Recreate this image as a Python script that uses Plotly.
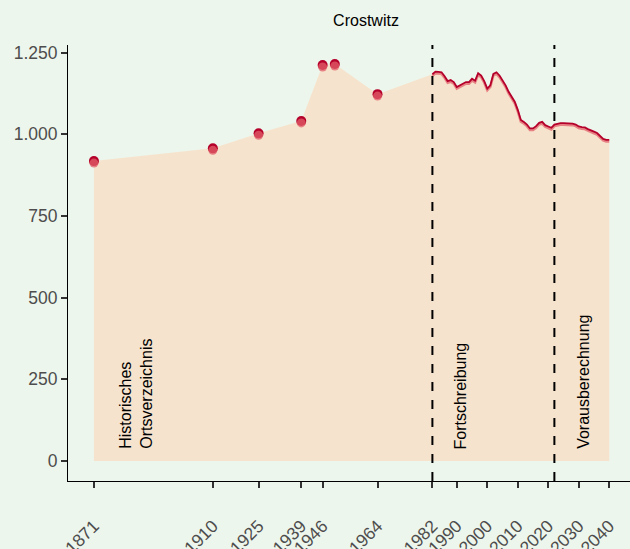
import plotly.graph_objects as go

# Historic census points (Historisches Ortsverzeichnis)
hist_years = [1871, 1910, 1925, 1939, 1946, 1950, 1964]
hist_values = [918, 957, 1003, 1041, 1212, 1215, 1123]
hist_values_b = [912, 951, 997, 1035, 1206, 1209, 1117]

# Fortschreibung (annual)
fort_years = list(range(1982, 2023))
fort_values = [1184, 1192, 1191, 1190, 1178, 1163, 1166, 1160, 1145, 1150,
               1156, 1160, 1160, 1170, 1164, 1187, 1180, 1163, 1140, 1150,
               1185, 1190, 1180, 1165, 1150, 1130, 1115, 1100, 1075, 1044,
               1038, 1030, 1018, 1018, 1025, 1035, 1038, 1028, 1024, 1020,
               1030]

# Vorausberechnung (projection)
proj_years = list(range(2022, 2041))
proj_values = [1030, 1033, 1034, 1034, 1034, 1034, 1033, 1030, 1024, 1022,
               1021, 1016, 1013, 1008, 1004, 995, 986, 983, 983]

x_ticks = [1871, 1910, 1925, 1939, 1946, 1964, 1982, 1990, 2000, 2010, 2020, 2030, 2040]
y_ticks = [0, 250, 500, 750, 1000, 1250]
y_tick_labels = ["0", "250", "500", "750", "1.000", "1.250"]
breaks = [1982, 2022]

DARK = "#b4002a"
PINK = "rgba(225,95,105,0.75)"
FILL = "#f6e3cd"
BG = "#edf6ec"

line_years = fort_years + proj_years[1:]
line_values = fort_values + proj_values[1:]
all_years = hist_years + line_years
all_values = hist_values + line_values

fig = go.Figure()
fig.add_trace(go.Scatter(x=all_years, y=all_values, mode="lines", fill="tozeroy",
                         fillcolor=FILL, line=dict(width=0), hoverinfo="skip", showlegend=False))
fig.add_trace(go.Scatter(x=line_years, y=[v - 5 for v in line_values], mode="lines",
                         line=dict(color=PINK, width=2.5), showlegend=False))
fig.add_trace(go.Scatter(x=line_years, y=line_values, mode="lines",
                         line=dict(color=DARK, width=1.8), showlegend=False))
fig.add_trace(go.Scatter(x=hist_years, y=hist_values, mode="markers",
                         marker=dict(color=DARK, size=10), showlegend=False))
fig.add_trace(go.Scatter(x=hist_years, y=hist_values_b, mode="markers",
                         marker=dict(color=PINK, size=9), showlegend=False))

for b in breaks:
    fig.add_shape(type="line", x0=b, x1=b, y0=0, y1=1, xref="x", yref="paper",
                  line=dict(color="black", width=2, dash="dash"))

ann_font = dict(family="Liberation Sans, Arial", size=16, color="black")
fig.add_annotation(x=1885, y=30, text="Historisches<br>Ortsverzeichnis", textangle=-90,
                   showarrow=False, xanchor="center", yanchor="bottom", font=ann_font, align="left")
fig.add_annotation(x=1991.3, y=30, text="Fortschreibung", textangle=-90,
                   showarrow=False, xanchor="center", yanchor="bottom", font=ann_font)
fig.add_annotation(x=2031.6, y=30, text="Vorausberechnung", textangle=-90,
                   showarrow=False, xanchor="center", yanchor="bottom", font=ann_font)

fig.update_layout(
    width=630, height=549,
    paper_bgcolor=BG, plot_bgcolor=BG,
    margin=dict(l=68, r=0, t=45, b=68),
    title=dict(text="Crostwitz", x=366 / 630, xanchor="center", y=1 - 20 / 549, yanchor="middle",
               font=dict(family="Liberation Sans, Arial", size=16, color="black")),
    font=dict(family="Liberation Sans, Arial"),
    xaxis=dict(range=[1862.5, 2046.8], tickvals=x_ticks, ticktext=[str(t) for t in x_ticks],
               tickangle=-45, showgrid=False, zeroline=False, showline=True, linecolor="black",
               linewidth=1, ticks="outside", ticklen=6, tickwidth=1.5, tickcolor="#333333",
               tickfont=dict(size=17.5, color="#4d4d4d"), ticklabelstandoff=21, automargin=False),
    yaxis=dict(range=[-61.2, 1273.4], tickvals=y_ticks, ticktext=y_tick_labels,
               showgrid=False, zeroline=False, showline=True, linecolor="black", linewidth=1,
               ticks="outside", ticklen=6, tickwidth=1.5, tickcolor="#333333",
               tickfont=dict(size=17.5, color="#4d4d4d"), automargin=False),
)

fig.write_html("out.html", config={"displayModeBar": False},
               post_script="document.body.style.margin='0';document.body.style.background='" + BG + "';")
